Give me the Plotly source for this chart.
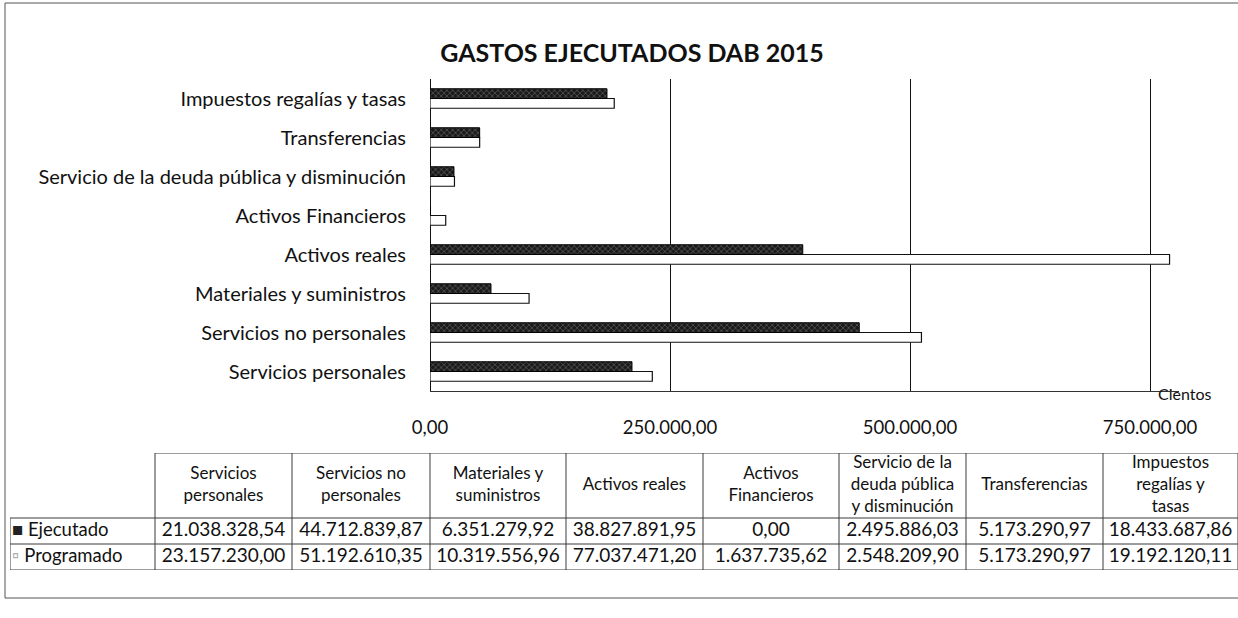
import plotly.graph_objects as go

# ---------------- data ----------------
categories = [
    "Servicios personales",
    "Servicios no personales",
    "Materiales y suministros",
    "Activos reales",
    "Activos Financieros",
    "Servicio de la deuda pública y disminución",
    "Transferencias",
    "Impuestos regalías y tasas",
]
table_headers = [
    "Servicios<br>personales",
    "Servicios no<br>personales",
    "Materiales y<br>suministros",
    "Activos reales",
    "Activos<br>Financieros",
    "Servicio de la<br>deuda pública<br>y disminución",
    "Transferencias",
    "Impuestos<br>regalías y<br>tasas",
]
ejecutado = [21038328.54, 44712839.87, 6351279.92, 38827891.95, 0.00,
             2495886.03, 5173290.97, 18433687.86]
programado = [23157230.00, 51192610.35, 10319556.96, 77037471.20, 1637735.62,
              2548209.90, 5173290.97, 19192120.11]
series_names = ["Ejecutado", "Programado"]
x_ticks = [0, 250000, 500000, 750000]
unit_divisor = 100
unit_label = "Cientos"
title = "GASTOS EJECUTADOS DAB 2015"

FONT = "Lato"
W, H = 1238, 618
LINE = "#3a3a3a"


def fmt(v):
    s = f"{v:,.2f}"
    return s.replace(",", "X").replace(".", ",").replace("X", ".")


ej_c = [v / unit_divisor for v in ejecutado]
pr_c = [v / unit_divisor for v in programado]

fig = go.Figure()

# ---------------- bar chart ----------------
fig.add_trace(go.Bar(
    y=categories, x=pr_c, orientation="h", name=series_names[1],
    marker=dict(color="white", line=dict(color="#111", width=1.2)),
    showlegend=False, hoverinfo="skip",
))
fig.add_trace(go.Bar(
    y=categories, x=ej_c, orientation="h", name=series_names[0],
    marker=dict(color="#1a1a1a", line=dict(color="#000", width=1),
                pattern=dict(shape="x", bgcolor="#1a1a1a", fgcolor="#8c8c8c",
                             size=4, solidity=0.2, fillmode="replace")),
    showlegend=False, hoverinfo="skip",
))

# ---------------- data table (drawn on its own axes x2/y2) ----------------
col_widths = [145, 137, 138, 136, 137, 136, 127, 137, 135]
row_heights = [65, 26, 26]
col_edges = [0]
for w_ in col_widths:
    col_edges.append(col_edges[-1] + w_)
row_edges = [0]
for h_ in row_heights:
    row_edges.append(row_edges[-1] + h_)
col_mid = [(a + b) / 2 for a, b in zip(col_edges[:-1], col_edges[1:])]
row_mid = [(a + b) / 2 for a, b in zip(row_edges[:-1], row_edges[1:])]

# header texts
fig.add_trace(go.Scatter(
    x=col_mid[1:], y=[row_mid[0]] * len(table_headers), text=table_headers,
    mode="text", textposition="middle center",
    textfont=dict(family=FONT, size=17, color="#111"),
    xaxis="x2", yaxis="y2", showlegend=False, hoverinfo="skip",
))
# value cells
vx, vy, vt = [], [], []
for j, (e, p) in enumerate(zip(ejecutado, programado)):
    vx += [col_mid[j + 1], col_mid[j + 1]]
    vy += [row_mid[1], row_mid[2]]
    vt += [fmt(e), fmt(p)]
fig.add_trace(go.Scatter(
    x=vx, y=vy, text=vt, mode="text", textposition="middle center",
    textfont=dict(family=FONT, size=19, color="#111"),
    xaxis="x2", yaxis="y2", showlegend=False, hoverinfo="skip",
))
# row headers with legend keys
row_labels = [
    '<span style="color:#222">■</span> ' + series_names[0],
    '<span style="color:#b0b0b0">▫</span> ' + series_names[1],
]
fig.add_trace(go.Scatter(
    x=[col_edges[0] + 2] * 2, y=row_mid[1:], text=row_labels,
    mode="text", textposition="middle right",
    textfont=dict(family=FONT, size=18.5, color="#111"),
    xaxis="x2", yaxis="y2", showlegend=False, hoverinfo="skip",
))

shapes = []
# horizontal borders
shapes.append(dict(type="line", xref="x2", yref="y2", x0=col_edges[1], x1=col_edges[-1],
                   y0=row_edges[0], y1=row_edges[0], line=dict(color=LINE, width=1)))
for yv in row_edges[1:]:
    shapes.append(dict(type="line", xref="x2", yref="y2", x0=col_edges[0], x1=col_edges[-1],
                       y0=yv, y1=yv, line=dict(color=LINE, width=1)))
# vertical borders
shapes.append(dict(type="line", xref="x2", yref="y2", x0=col_edges[0], x1=col_edges[0],
                   y0=row_edges[1], y1=row_edges[-1], line=dict(color=LINE, width=1)))
for xv in col_edges[1:]:
    shapes.append(dict(type="line", xref="x2", yref="y2", x0=xv, x1=xv,
                       y0=row_edges[0], y1=row_edges[-1], line=dict(color=LINE, width=1)))
# outer chart frame
shapes.append(dict(
    type="rect", xref="paper", yref="paper",
    x0=5 / W, x1=1.05, y0=1 - 598 / H, y1=1 - 3 / H,
    line=dict(color="#555", width=1), fillcolor="rgba(0,0,0,0)", layer="below",
))

x0_px, px_per_unit = 430, 240 / 250000
x_max = 780000
tbl_left, tbl_top = 10, 453
fig.update_layout(
    template="none",
    width=W, height=H, autosize=False,
    margin=dict(l=0, r=0, t=0, b=0, pad=0),
    paper_bgcolor="white", plot_bgcolor="rgba(0,0,0,0)",
    showlegend=False,
    barmode="group", bargap=0.5, bargroupgap=0.0,
    separators=",.",
    font=dict(family=FONT, size=16, color="#111"),
    title=dict(text=f"<b>{title}</b>", x=632 / W, xanchor="center",
               y=1 - 53 / H, yanchor="middle",
               font=dict(family=FONT, size=25, color="#111")),
    xaxis=dict(
        domain=[x0_px / W, (x0_px + x_max * px_per_unit) / W],
        range=[0, x_max], automargin=False,
        tickvals=x_ticks, ticktext=[fmt(t) for t in x_ticks],
        showgrid=True, gridcolor="#111", gridwidth=1.2,
        zeroline=True, zerolinecolor="#111", zerolinewidth=1.2,
        showline=True, linecolor="#333", linewidth=1,
        ticks="", ticklabelstandoff=20,
        tickfont=dict(family=FONT, size=18.5, color="#111"),
        fixedrange=True,
    ),
    yaxis=dict(
        domain=[1 - 391 / H, 1 - 79 / H], automargin=False,
        categoryorder="array", categoryarray=categories,
        showgrid=False, zeroline=False, showline=False,
        ticks="", ticklabelstandoff=23,
        tickfont=dict(family=FONT, size=20, color="#111"),
        fixedrange=True,
    ),
    xaxis2=dict(
        domain=[tbl_left / W, (tbl_left + col_edges[-1]) / W],
        range=[0, col_edges[-1]], visible=False, fixedrange=True,
        automargin=False, anchor="y2",
    ),
    yaxis2=dict(
        domain=[1 - (tbl_top + row_edges[-1]) / H, 1 - tbl_top / H],
        range=[row_edges[-1], 0], visible=False, fixedrange=True,
        automargin=False, anchor="x2",
    ),
    annotations=[dict(
        text=unit_label, xref="paper", yref="paper",
        x=1156 / W, y=1 - 393 / H, xanchor="left", yanchor="middle",
        showarrow=False, font=dict(family=FONT, size=16, color="#111"),
    )],
    shapes=shapes,
)

fig.write_html(
    "out.html",
    include_plotlyjs=True,
    config={"responsive": False, "displayModeBar": False},
    post_script="document.body.style.margin='0';document.body.style.overflow='hidden';",
)
